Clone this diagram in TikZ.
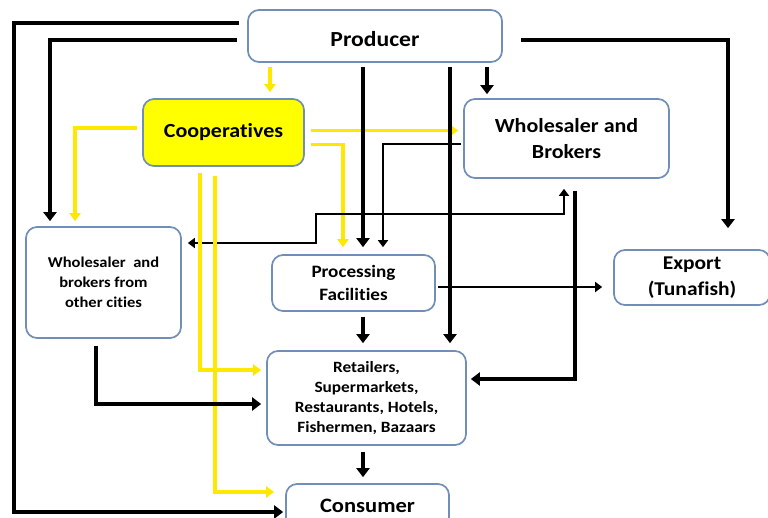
\documentclass[tikz,border=0pt]{standalone}
\usepackage{fontspec}
\setmainfont{Carlito}[FakeStretch=1.1, Ligatures=NoCommon]
\usetikzlibrary{arrows.meta,calc}
\definecolor{bordc}{RGB}{112,142,184}
\definecolor{coopy}{RGB}{255,255,0}
\definecolor{liney}{RGB}{255,232,0}
\begin{document}
\begin{tikzpicture}[x=1pt,y=-1pt,
  box/.style={draw=bordc, line width=1.7pt, rounded corners=11pt, fill=white,
    align=center, inner sep=0pt, font=\bfseries},
  blk/.style={draw=black, line width=4pt, -{Triangle[width=13pt,length=9pt]}},
  blkthin/.style={draw=black, line width=2.8pt, -{Triangle[width=10pt,length=7pt]}},
  yel/.style={draw=liney, line width=3.6pt, -{Triangle[width=11pt,length=8pt]}}]
\clip (0,0) rectangle (768,517);
\fill[white] (0,0) rectangle (768,517);

% nodes
\node[box, minimum width=254pt, minimum height=52pt, text height=21pt, text depth=0pt, font=\bfseries\fontsize{21.5}{24}\selectfont] (prod) at (375,36) {Producer};
\node[box, fill=coopy, minimum width=161pt, minimum height=67pt, font=\bfseries\fontsize{20}{24}\selectfont] (coop) at (223.5,132.5) {Cooperatives};
\node[box, minimum width=205pt, minimum height=79pt, font=\bfseries\fontsize{20}{26}\selectfont] (wb) at (566.5,138.5) {Wholesaler and\\Brokers};
\node[box, minimum width=155pt, minimum height=111pt, font=\bfseries\fontsize{15}{20}\selectfont] (woc) at (103.5,282.5) {Wholesaler~ and\\brokers from\\other cities};
\node[box, minimum width=163pt, minimum height=56pt, font=\bfseries\fontsize{17.4}{23}\selectfont] (proc) at (353.5,283) {Processing\\Facilities};
\node[box, minimum width=156pt, minimum height=55pt, font=\bfseries\fontsize{19.5}{26}\selectfont] (exp) at (692,277.5) {Export\\(Tunafish)};
\node[box, minimum width=199pt, minimum height=94pt, font=\bfseries\fontsize{15.7}{20}\selectfont] (ret) at (366.5,398) {Retailers,\\Supermarkets,\\Restaurants, Hotels,\\Fishermen, Bazaars};
\node[box, minimum width=163pt, minimum height=46pt, font=\bfseries\fontsize{20.5}{24}\selectfont] (cons) at (367.5,507) {\raisebox{2pt}{Consumer}};

% yellow connectors (middle, below black)
\draw[yel] ($(prod.south)+(-105,4)$) -- ($(coop.north)+(46.5,-6)$);
\draw[yel] ($(coop.east)+(6,-2)$) -- ($(wb.west)+(-5,-8)$);
\draw[yel] ($(coop.east)+(6,12)$) -| ($(proc.north)+(-10.5,-7)$);

% black connectors
\draw[blk, line width=4.5pt] ($(prod.west)+(-8,-13)$) -- (14,23) |- ($(cons.west)+(-2,5)$);
\draw[blk] ($(prod.west)+(-10,4)$) -| ($(woc.north)+(-53.5,-5)$);
\draw[blk] ($(prod.south)+(112,4)$) -- ($(wb.north)+(-79.5,-4)$);
\draw[blk] ($(prod.east)+(18,4)$) -| ($(exp.north)+(36,-21)$);
\draw[blkthin] ($(wb.west)+(-2,5.5)$) -| ($(proc.north)+(29.5,-7)$);
\draw[blkthin, {Triangle[width=10pt,length=7pt]}-{Triangle[width=10pt,length=7pt]}] ($(woc.east)+(6,-39.5)$) -| (316,214) -| ($(wb.south)+(-2.5,10)$);
\draw[blk] ($(wb.south)+(8.5,12)$) |- ($(ret.east)+(4,-19)$);
\draw[blkthin] ($(proc.east)+(2,4)$) -- ($(exp.west)+(-11,9.5)$);
\draw[blk] ($(proc.south)+(9.5,5)$) -- ($(ret.north)+(-3.5,-7)$);
\draw[blk] ($(ret.south)+(-3.5,6)$) -- ($(cons.north)+(-4.5,-6)$);

% yellow connectors (left, over black)
\draw[yel] ($(coop.west)+(-5,-4.5)$) -| ($(woc.north)+(-28.5,-5)$);
\draw[yel] ($(coop.south)+(-23.5,6)$) |- ($(ret.west)+(-5,-28)$);
\draw[yel] ($(coop.south)+(-8.5,9)$) |- ($(cons.west)+(-11,-15)$);
\draw[blk] ($(woc.south)+(-7.5,7)$) |- ($(ret.west)+(-5,6)$);

% producer verticals on top
\draw[blk] ($(prod.south)+(-12,4)$) -- ($(proc.north)+(9.5,-7)$);
\draw[blk] ($(prod.south)+(75,4)$) -- ($(ret.north)+(83.5,-7)$);
\end{tikzpicture}
\end{document}
